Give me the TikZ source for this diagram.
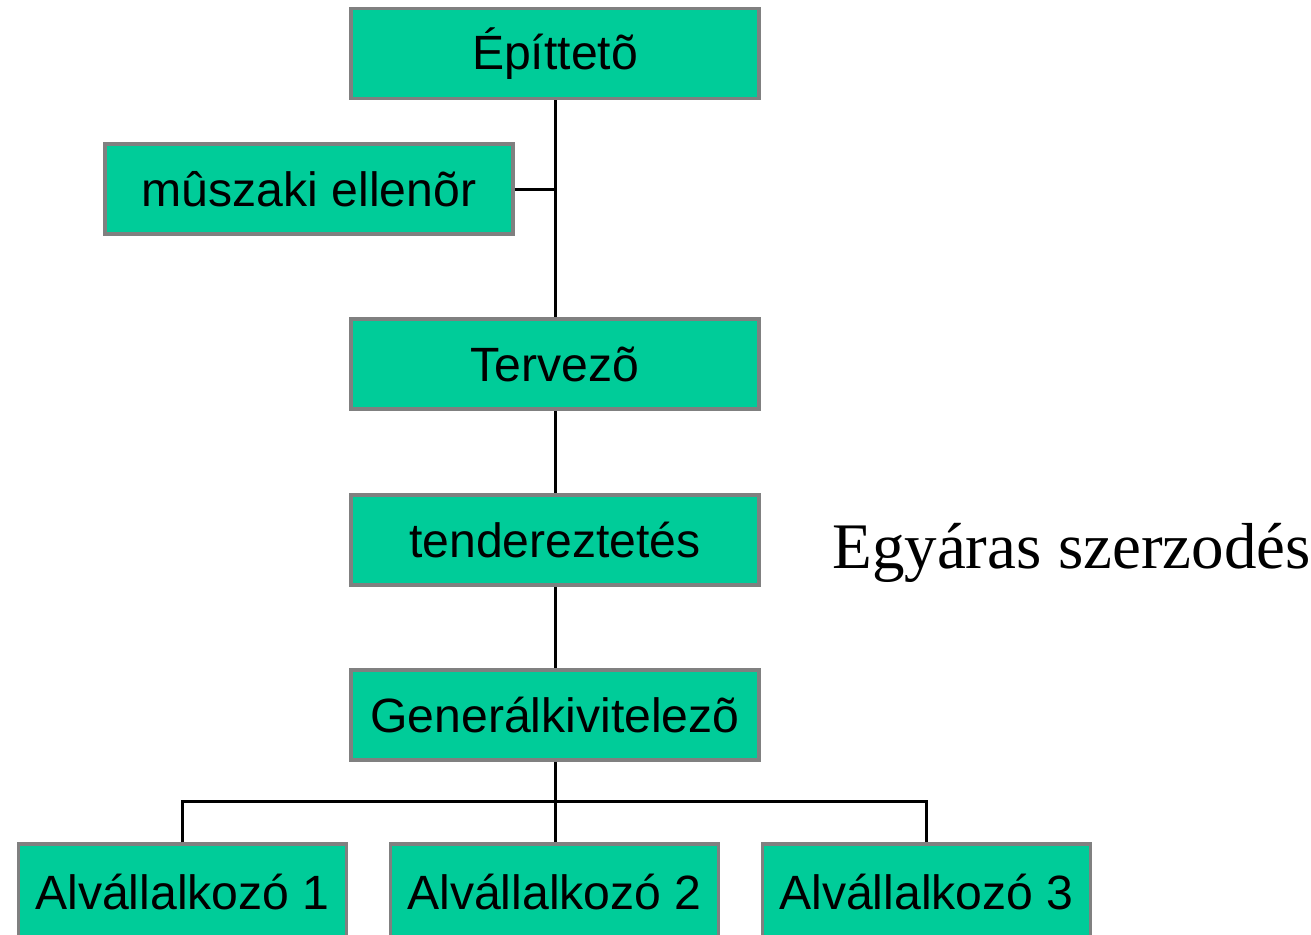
\documentclass[tikz,border=0pt]{standalone}
\usepackage{fontspec}
\setmainfont{Liberation Serif}
\setsansfont{Liberation Sans}
\definecolor{zold}{HTML}{00CC99}
\definecolor{keret}{HTML}{808080}
\begin{document}
\begin{tikzpicture}[x=0.02cm,y=-0.02cm]
		\tikzstyle{doboz}=[minimum width=8.16cm, minimum height=1.8cm,inner sep=0pt,draw=keret,line width=2pt,fill=zold,font=\sffamily\fontsize{27.4}{31}\selectfont]
		\tikzstyle{kisdoboz}=[doboz,minimum width=6.56cm,minimum height=1.92cm]
		\tikzstyle{vonal}=[line width=1.7pt]
		\useasboundingbox (0,0) rectangle (1311,934);
		\node[doboz] (epitteto) at (555,53.5) {Építtetõ};
		\node[doboz] (muszaki) at (309,189) {mûszaki ellenõr};
		\node[doboz] (tervezo) at (555,364) {Tervezõ};
		\node[doboz] (tender) at (555,540) {tendereztetés};
		\node[doboz] (general) at (555,715) {Generálkivitelezõ};
		\node[kisdoboz] (alv1) at (182.5,892) {Alvállalkozó 1}; % bal
		\node[kisdoboz] (alv2) at (554.5,892) {Alvállalkozó 2};
		\node[kisdoboz] (alv3) at (926.5,892) {Alvállalkozó 3}; % jobb
		\node[anchor=base west,inner sep=0pt,font=\fontsize{37}{44}\selectfont] (szerzodes) at (832,568) {Egyáras szerzodés};
		\coordinate (elag) at (555,801);
		\draw[vonal] (epitteto.south) -- (tervezo.north);
		\draw[vonal] (muszaki.east) -- (muszaki.east -| epitteto.south);
		\draw[vonal] (tervezo.south) -- (tender.north);
		\draw[vonal] (tender.south) -- (general.north);
		\draw[vonal] (general.south) -- (elag);
		\draw[vonal] (alv1.north) |- (elag) -| (alv3.north);
		\draw[vonal] (elag) -- (elag |- alv2.north);
	\end{tikzpicture}
\end{document}
